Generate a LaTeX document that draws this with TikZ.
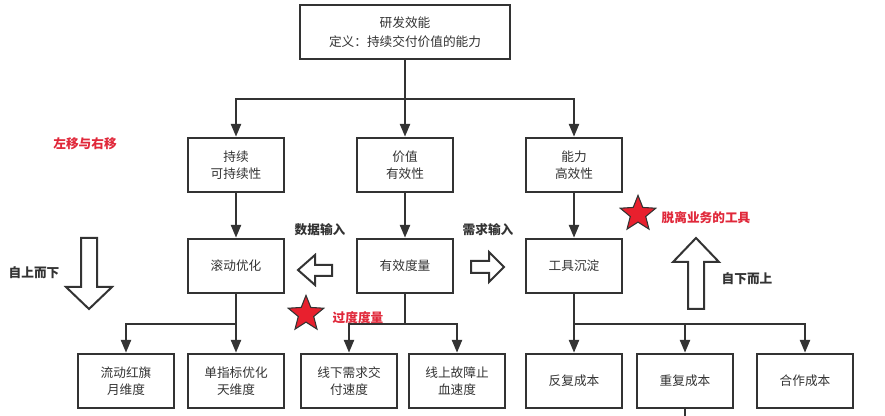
\documentclass[tikz,border=0pt]{standalone}
\usepackage{fontspec}
\setmainfont{Noto Sans CJK SC}
\usetikzlibrary{arrows.meta,positioning,shapes.geometric}
\definecolor{ink}{HTML}{333333}
\definecolor{starred}{HTML}{E8202E}
\definecolor{notered}{HTML}{E0283A}

\begin{document}
\begin{tikzpicture}[x=0.75pt,y=-0.75pt,
	every node/.style={font=\fontsize{9.5}{12.5}\selectfont,text=ink},
	pnode/.style={rectangle,draw=ink,line width=1.5pt,align=center,minimum width=72pt,minimum height=41pt,inner sep=0pt},
	rootnode/.style={pnode,minimum width=157pt,font=\fontsize{9.5}{14}\selectfont},
	link/.style={draw=ink,line width=1.5pt},
	conn/.style={link,-{Triangle[length=9.5pt,width=7.5pt]}},
	hollow/.style={draw=ink,line width=1.5pt,fill=white,line join=miter},
	tag/.style={font=\bfseries\fontsize{9.5}{12}\selectfont},
	redtag/.style={tag,text=notered},
	starnode/.style={star,star points=5,star point ratio=2.3,minimum size=28pt,inner sep=0pt,fill=starred,draw=ink,line width=0.8pt},
	]
	\useasboundingbox (0,0) rectangle (885,416);
	% root and first level
	\node (r) [rootnode] at (405,32) {研发效能\\定义：持续交付价值的能力};
	\node (a) [pnode] at (236,165) {持续\\可持续性};
	\node (b) [pnode] at (405,165) {价值\\有效性};
	\node (c) [pnode] at (574,165) {能力\\高效性};
	% second level
	\node (d) [pnode] at (236,266) {滚动优化};
	\node (e) [pnode] at (405,266) {有效度量};
	\node (f) [pnode] at (574,266) {工具沉淀};
	% leaves
	\node (g) [pnode] at (126,381) {流动红旗\\月维度};
	\node (h) [pnode] at (236,381) {单指标优化\\天维度};
	\node (i) [pnode] at (349,381) {线下需求交\\付速度};
	\node (k) [pnode] at (457,381) {线上故障止\\血速度};
	\node (l) [pnode] at (574,381) {反复成本};
	\node (m) [pnode] at (685,381) {重复成本};
	\node (n) [pnode] at (805,381) {合作成本};
	% joints
	\coordinate (j0) at (405,99);
	\coordinate (j1) at (236,324);
	\coordinate (j2) at (405,324);
	\coordinate (j3) at (574,324);
	\coordinate (mout) at (685,416);

	\draw[link] (r) -- (j0);
	\draw[conn] (j0) -| (a);
	\draw[conn] (j0) -- (b);
	\draw[conn] (j0) -| (c);
	\draw[conn] (a) -- (d);
	\draw[conn] (b) -- (e);
	\draw[conn] (c) -- (f);
	\draw[link] (d) -- (j1);
	\draw[conn] (j1) -| (g);
	\draw[conn] (j1) -- (h);
	\draw[link] (e) -- (j2);
	\draw[conn] (j2) -| (i);
	\draw[conn] (j2) -| (k);
	\draw[conn] (f) -- (l);
	\draw[conn] (j3) -| (m);
	\draw[conn] (j3) -| (n);
	\draw[link] (m) -- (mout);

	% big hollow arrows
	\draw[hollow] (81,238) -- (97,238) -- (97,287) -- (112,287) -- (89,309) -- (66,287) -- (81,287) -- cycle;
	\draw[hollow] (688,309) -- (704,309) -- (704,262) -- (719,262) -- (696,238) -- (673,262) -- (688,262) -- cycle;
	\draw[hollow] (332,265) -- (315,265) -- (315,255) -- (298,270) -- (315,285) -- (315,276) -- (332,276) -- cycle;
	\draw[hollow] (471,261) -- (489,261) -- (489,252) -- (504,267) -- (489,282) -- (489,273) -- (471,273) -- cycle;

	% labels
	\node (t1) [tag] at (320,230) {数据输入};
	\node (t2) [tag] at (488,230) {需求输入};
	\node (t3) [tag] at (34,273) {自上而下};
	\node (t4) [tag] at (747,279) {自下而上};
	\node (t5) [redtag] at (85,144) {左移与右移};
	\node (s1) [starnode] at (306,314) {};
	\node (t6) [redtag] at (358,318) {过度度量};
	\node (s2) [starnode] at (638,214) {};
	\node (t7) [redtag] at (706,218) {脱离业务的工具};
\end{tikzpicture}
\end{document}
